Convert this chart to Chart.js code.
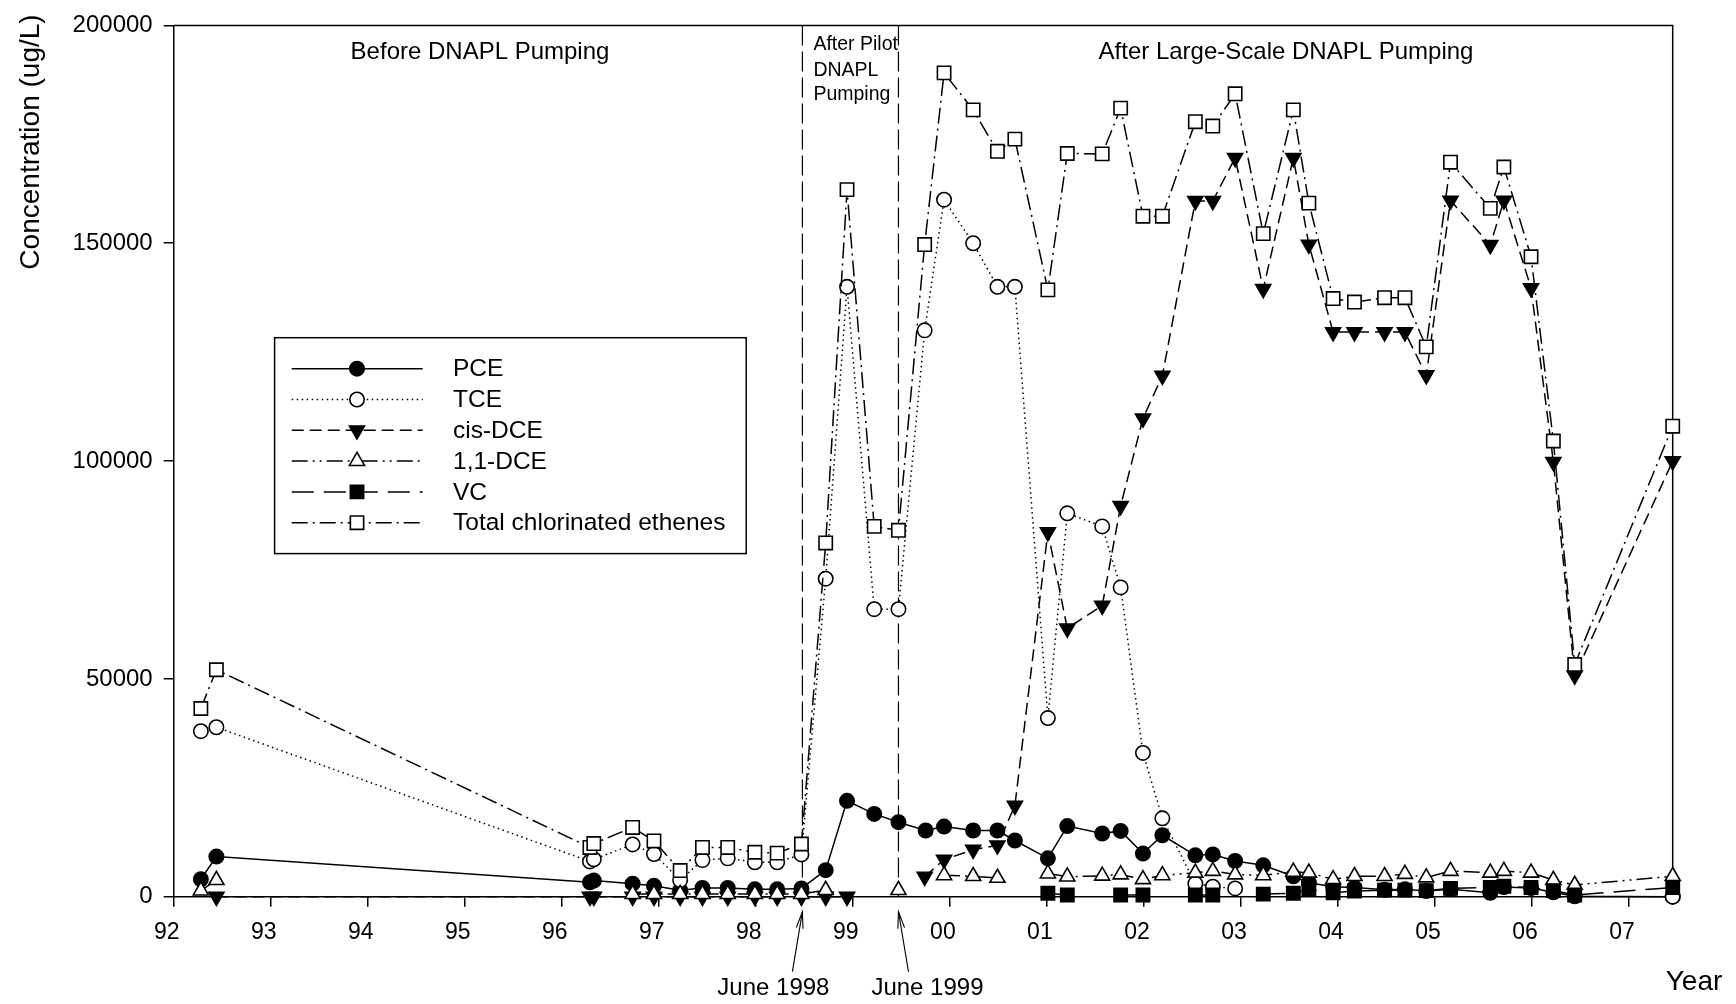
<!DOCTYPE html>
<html>
<head>
<meta charset="utf-8">
<script src="https://cdn.jsdelivr.net/npm/chart.js@4.4.1/dist/chart.umd.min.js"></script>
<style>
html,body{margin:0;padding:0;background:#fff;}
#wrap{width:1736px;height:1004px;}
</style>
</head>
<body>
<div id="wrap"><canvas id="c" width="1736" height="1004"></canvas></div>
<script>
// ---------- DATA (years as 2-digit year + fraction; 100 = 2000) ----------
const xTickYears  = [92,93,94,95,96,97,98,99,100,101,102,103,104,105,106,107];
const xTickLabels = ['92','93','94','95','96','97','98','99','00','01','02','03','04','05','06','07'];
const yTickValues = [0,50000,100000,150000,200000];
const yTickLabels = ['0','50000','100000','150000','200000'];

const pceYears = [92.28,92.44,96.29,96.33,96.73,96.95,97.22,97.45,97.71,97.99,98.22,98.47,98.72,98.94,99.22,99.47,99.75,99.94,100.24,100.49,100.67,101.01,101.21,101.57,101.76,101.99,102.19,102.53,102.71,102.94,103.23,103.54,103.70,103.95,104.17,104.48,104.69,104.91,105.16,105.57,105.71,105.99,106.22,106.44,107.45];
const pce      = [4000,9200,3300,3700,3000,2500,1500,2000,2000,1700,1700,1900,6100,22000,19000,17100,15200,16100,15200,15200,12900,8800,16200,14500,15100,9900,14100,9500,9700,8200,7200,4700,3200,2300,2100,1600,1700,1300,1700,900,2200,2000,1000,100,0];

const tceYears = [92.28,92.44,96.29,96.33,96.73,96.95,97.22,97.45,97.71,97.99,98.22,98.47,98.72,98.94,99.22,99.47,99.74,99.94,100.24,100.49,100.67,101.01,101.21,101.57,101.76,101.99,102.19,102.53,102.71,102.94,105.0,107.45];
const tce      = [38000,38900,8100,8600,12000,9800,3800,8400,8800,7900,7900,9700,73000,140000,66000,66000,130000,160000,150000,140000,140000,41000,88000,85000,71000,33000,18000,3000,2300,1900,null,0];

const cisYears = [92.44,96.29,96.33,96.73,96.95,97.22,97.45,97.71,97.99,98.22,98.47,98.72,98.94,99.30,99.74,99.94,100.24,100.49,100.67,101.01,101.21,101.57,101.76,101.99,102.19,102.53,102.71,102.94,103.23,103.54,103.70,103.95,104.17,104.48,104.69,104.91,105.16,105.57,105.71,105.99,106.22,106.44,107.45];
const cis      = [0,0,0,0,0,0,0,0,0,0,0,0,0,null,4600,8500,10800,11800,20900,83700,61600,66800,89700,109800,119600,159700,159700,169600,139500,169600,149700,129600,129600,129600,129600,119700,159800,149600,159800,139700,99800,50800,100000];

const dceYears = [92.28,92.44,94.50,96.73,96.95,97.22,97.45,97.71,97.99,98.22,98.47,98.72,99.10,99.47,99.70,99.94,100.24,100.49,100.70,101.01,101.21,101.57,101.76,101.99,102.19,102.53,102.71,102.94,103.23,103.54,103.70,103.95,104.17,104.48,104.69,104.91,105.16,105.57,105.71,105.99,106.22,106.44,107.45];
const dce      = [1400,3800,null,600,600,600,600,600,600,600,600,1500,null,1500,null,4900,4700,4300,null,5300,4600,4800,5100,4000,4900,5500,5900,5100,4900,5700,5500,4000,4700,4700,5200,4400,5900,5500,5900,5500,3800,2700,4700];

const vcYears = [101.01,101.21,101.45,101.76,101.99,102.30,102.53,102.71,102.90,103.23,103.54,103.70,103.95,104.17,104.48,104.69,104.91,105.16,105.57,105.71,105.99,106.22,106.44,107.45];
const vc      = [800,400,null,400,400,null,400,400,null,600,800,1700,900,1300,1500,1500,1400,1900,2100,2400,2100,1400,400,2100];

const totYears = [92.28,92.44,96.29,96.33,96.73,96.95,97.22,97.45,97.71,97.99,98.22,98.47,98.72,98.94,99.22,99.47,99.74,99.94,100.24,100.49,100.67,101.01,101.21,101.57,101.76,101.99,102.19,102.53,102.71,102.94,103.23,103.54,103.70,103.95,104.17,104.48,104.69,104.91,105.16,105.57,105.71,105.99,106.22,106.44,107.45];
const tot      = [43200,52100,11300,12200,15900,12800,6000,11300,11300,10200,10000,12100,81200,162300,85000,84100,149700,189100,180600,171100,173900,139300,170600,170500,181000,156200,156200,177900,176900,184300,152200,180600,159200,137300,136500,137500,137500,126200,168600,158000,167500,146900,104600,53300,108000];

const seriesLabels = ['PCE','TCE','cis-DCE','1,1-DCE','VC','Total chlorinated ethenes'];
const juneEvents = [98.48, 99.47];
const juneLabels = ['June 1998','June 1999'];

// ---------- build ----------
const FONT = "'Liberation Sans', Arial, Helvetica, sans-serif";
function pts(xs, ys){ return xs.map((x,i)=>({x:x, y:ys[i]})); }

const styles = [
  {pointStyle:'circle',   r:7.2, fill:'#000', dash:[],               rot:0},
  {pointStyle:'circle',   r:7.2, fill:'#fff', dash:[1.5,3.5],        rot:0},
  {pointStyle:'triangle', r:8.7, fill:'#000', dash:[12,6],           rot:180},
  {pointStyle:'triangle', r:8.7, fill:'#fff', dash:[16,5,2,5,2,5],   rot:0},
  {pointStyle:'rect',     r:9.4, fill:'#000', dash:[22,10],          rot:0},
  {pointStyle:'rect',     r:9.4, fill:'#fff', dash:[16,5,2,5],       rot:0}
];
const series = [[pceYears,pce],[tceYears,tce],[cisYears,cis],[dceYears,dce],[vcYears,vc],[totYears,tot]];

const datasets = series.map((s,i)=>({
  label: seriesLabels[i],
  data: pts(s[0], s[1]),
  borderColor:'#000',
  borderWidth:1.5,
  borderDash: styles[i].dash,
  pointStyle: styles[i].pointStyle,
  pointRadius: styles[i].r,
  pointHoverRadius: styles[i].r,
  pointRotation: styles[i].rot,
  pointBackgroundColor: styles[i].fill,
  pointBorderColor:'#000',
  pointBorderWidth:1.6,
  tension:0,
  spanGaps:false,
  clip:false,
  order: 6 - i
}));

function arrow(ctx, x0, y0, x1, y1){
  ctx.beginPath(); ctx.moveTo(x0,y0); ctx.lineTo(x1,y1); ctx.stroke();
  const a = Math.atan2(y1-y0, x1-x0), L = 17, w = 0.2;
  ctx.beginPath();
  ctx.moveTo(x1 - L*Math.cos(a-w), y1 - L*Math.sin(a-w));
  ctx.lineTo(x1, y1);
  ctx.lineTo(x1 - L*Math.cos(a+w), y1 - L*Math.sin(a+w));
  ctx.stroke();
}

const decor = {
  id:'decor',
  beforeDatasetsDraw(chart){
    const ctx = chart.ctx, a = chart.chartArea, xs = chart.scales.x;
    ctx.save();
    ctx.strokeStyle = '#000';
    ctx.lineWidth = 1.2;
    ctx.setLineDash([20,6]);
    juneEvents.forEach(v=>{
      const px = xs.getPixelForValue(v);
      ctx.beginPath(); ctx.moveTo(px, a.top); ctx.lineTo(px, a.bottom); ctx.stroke();
    });
    ctx.setLineDash([]);
    ctx.lineWidth = 1.5;
    ctx.beginPath();
    ctx.moveTo(a.left, a.top); ctx.lineTo(a.right, a.top); ctx.lineTo(a.right, a.bottom);
    ctx.stroke();
    ctx.restore();
  },
  afterDraw(chart){
    const ctx = chart.ctx, a = chart.chartArea, xs = chart.scales.x;
    ctx.save();
    ctx.fillStyle = '#000'; ctx.strokeStyle = '#000';
    ctx.font = '24px ' + FONT;
    ctx.textAlign = 'center'; ctx.textBaseline = 'alphabetic';
    ctx.fillText('Before DNAPL Pumping', 480, 59);
    ctx.fillText('After Large-Scale DNAPL Pumping', 1286, 59);
    const p1 = xs.getPixelForValue(juneEvents[0]);
    ctx.font = '19.5px ' + FONT;
    ctx.textAlign = 'left';
    ctx.fillText('After Pilot', p1 + 11, 50);
    ctx.fillText('DNAPL', p1 + 11, 75.5);
    ctx.fillText('Pumping', p1 + 11, 99.5);
    ctx.font = '24px ' + FONT;
    ctx.textAlign = 'center';
    ctx.lineWidth = 1.1;
    juneEvents.forEach((v,i)=>{
      const px = xs.getPixelForValue(v);
      const dir = i === 0 ? -1 : 1;
      arrow(ctx, px + dir*10, a.bottom + 75, px, a.bottom + 15);
      ctx.fillText(juneLabels[i], px + dir*29, 995);
    });
    ctx.font = '28px ' + FONT;
    ctx.fillText('Year', 1694, 990);
    ctx.save();
    ctx.translate(31, 142);
    ctx.rotate(-Math.PI/2);
    ctx.textBaseline = 'middle';
    ctx.fillText('Concentration (ug/L)', 0, 0);
    ctx.restore();
    // legend
    const bx = 274.6, by = 337.7, bw = 471.6, bh = 215.9;
    ctx.fillStyle = '#fff';
    ctx.fillRect(bx, by, bw, bh);
    ctx.lineWidth = 1.5; ctx.strokeStyle = '#000';
    ctx.strokeRect(bx, by, bw, bh);
    chart.data.datasets.forEach((ds,i)=>{
      const y = 368.7 + i*30.8;
      ctx.lineWidth = ds.borderWidth;
      ctx.setLineDash(ds.borderDash);
      ctx.beginPath(); ctx.moveTo(291.7, y); ctx.lineTo(422.7, y); ctx.stroke();
      ctx.setLineDash([]);
      ctx.fillStyle = ds.pointBackgroundColor;
      ctx.strokeStyle = ds.pointBorderColor;
      ctx.lineWidth = ds.pointBorderWidth;
      Chart.helpers.drawPoint(ctx, {pointStyle: ds.pointStyle, radius: ds.pointRadius, rotation: ds.pointRotation, borderWidth: ds.pointBorderWidth}, 357, y);
      ctx.fillStyle = '#000'; ctx.strokeStyle = '#000';
      ctx.font = '24.5px ' + FONT;
      ctx.textAlign = 'left'; ctx.textBaseline = 'middle';
      ctx.fillText(ds.label, 453, y + 1);
    });
    ctx.restore();
  }
};

new Chart(document.getElementById('c'), {
  type:'line',
  data:{ datasets: datasets },
  options:{
    responsive:false,
    devicePixelRatio:1,
    animation:false,
    events:[],
    layout:{ padding:{ top:21, right:63.3, left:0, bottom:0 } },
    plugins:{ legend:{display:false}, tooltip:{enabled:false}, title:{display:false} },
    scales:{
      x:{
        type:'linear', position:'bottom', min:92, max:107.45,
        afterBuildTicks: s => { s.ticks = xTickYears.map(v=>({value:v})); },
        afterFit: s => { s.height = 107.3; },
        ticks:{ callback: v => xTickLabels[xTickYears.indexOf(v)], color:'#000', font:{family:FONT, size:23}, padding:12, labelOffset:-7, maxRotation:0, autoSkip:false },
        grid:{ drawOnChartArea:false, drawTicks:true, tickLength:10, color:'#000', lineWidth:1.5 },
        border:{ display:true, color:'#000', width:1.5 }
      },
      y:{
        type:'linear', position:'left', min:0, max:200000,
        afterBuildTicks: s => { s.ticks = yTickValues.map(v=>({value:v})); },
        afterFit: s => { s.width = 173.7; },
        ticks:{ callback: v => yTickLabels[yTickValues.indexOf(v)], color:'#000', font:{family:FONT, size:24}, padding:11 },
        grid:{ drawOnChartArea:false, drawTicks:true, tickLength:10, color:'#000', lineWidth:1.5 },
        border:{ display:true, color:'#000', width:1.5 }
      }
    }
  },
  plugins:[decor]
});
</script>
</body>
</html>
